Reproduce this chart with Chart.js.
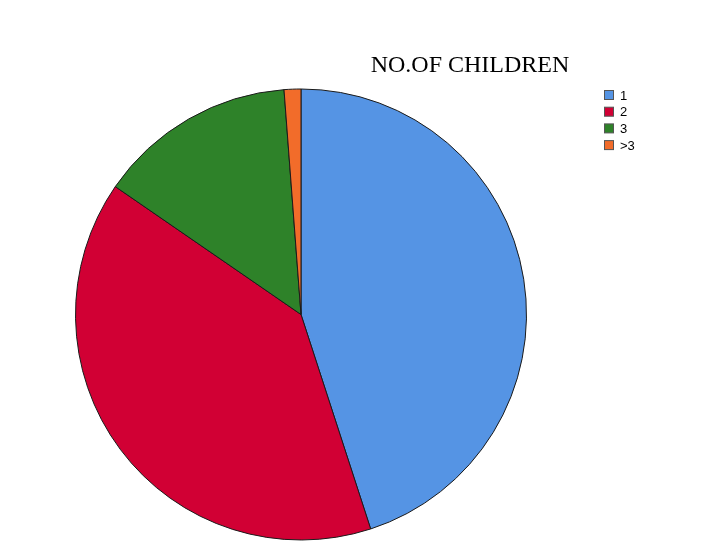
<!DOCTYPE html>
<html>
<head>
<meta charset="utf-8">
<script src="https://cdn.jsdelivr.net/npm/chart.js@4"></script>
<style>
  html, body { margin: 0; padding: 0; background: #ffffff; }
  #wrap { position: relative; width: 724px; height: 558px; }
</style>
</head>
<body>
<div id="wrap"><canvas id="grafico" width="724" height="558"></canvas></div>
<script>
const chartTitle = 'NO.OF CHILDREN';
const categorias = ['1', '2', '3', '>3'];
const percentuais = [45.0, 39.6, 14.2, 1.2];
const cores = ['#5594e4', '#d10034', '#2e8229', '#f26c2a'];

// title + legend drawn on the canvas, SPSS style
const extras = {
	id: 'extras',
	afterDraw(chart) {
		const ctx = chart.ctx;
		ctx.save();
		ctx.fillStyle = '#000000';
		ctx.font = '24px "Liberation Serif", "Times New Roman", serif';
		ctx.textAlign = 'center';
		ctx.textBaseline = 'alphabetic';
		ctx.fillText(chartTitle, 470, 72);

		ctx.font = '13px "Liberation Sans", Arial, sans-serif';
		ctx.textAlign = 'left';
		ctx.textBaseline = 'middle';
		const ds = chart.data.datasets[0];
		chart.data.labels.forEach((lab, i) => {
			const y = 90 + i * 16.7;
			ctx.fillStyle = ds.backgroundColor[i];
			ctx.fillRect(604.5, y + 0.5, 9, 9);
			ctx.strokeStyle = '#555555';
			ctx.lineWidth = 1;
			ctx.strokeRect(604.5, y + 0.5, 9, 9);
			ctx.fillStyle = '#000000';
			ctx.fillText(lab, 620, y + 6);
		});
		ctx.restore();
	}
};

new Chart(document.getElementById('grafico'), {
	type: 'pie',
	data: {
		labels: categorias,
		datasets: [{
			data: percentuais,
			backgroundColor: cores,
			borderColor: '#1a1a1a',
			borderWidth: 1
		}]
	},
	options: {
		responsive: false,
		animation: false,
		rotation: 0,
		layout: { padding: { left: 75, right: 197, top: 88, bottom: 17 } },
		plugins: {
			legend: { display: false },
			title: { display: false },
			tooltip: { enabled: false }
		}
	},
	plugins: [extras]
});
</script>
</body>
</html>
